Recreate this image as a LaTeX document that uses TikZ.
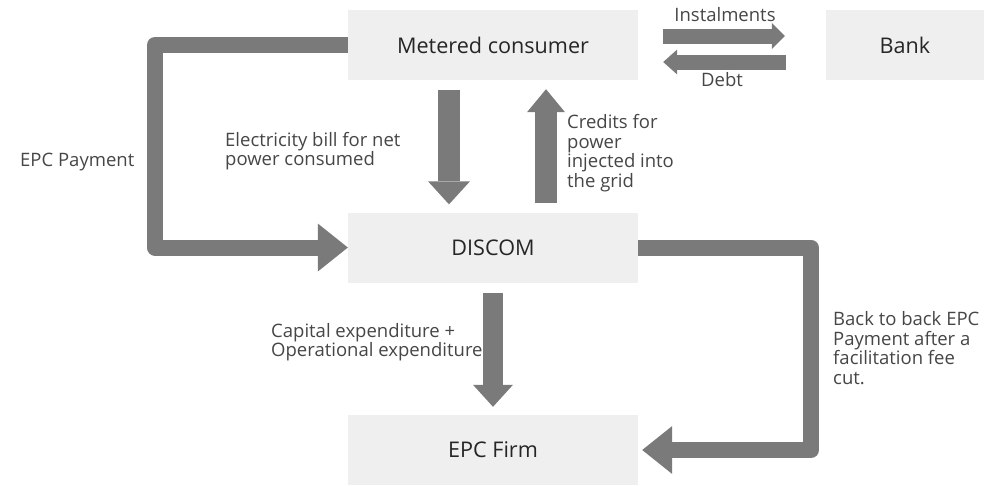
\documentclass[tikz,border=0pt]{standalone}
\usepackage{fontspec}
\setmainfont{Open Sans}
\usetikzlibrary{arrows.meta}
\definecolor{boxgray}{RGB}{239,239,239}
\definecolor{arrgray}{RGB}{122,122,122}
\definecolor{txtgray}{RGB}{70,70,70}
\begin{document}
\begin{tikzpicture}[x=1pt,y=-1pt,
  box/.style={fill=boxgray, minimum width=290pt, minimum height=70pt, inner sep=0pt,
    font=\fontsize{21.6}{24}\selectfont, text=black!85},
  lbl/.style={font=\fontsize{18.5}{19.6}\selectfont, text=txtgray, align=left, inner sep=0pt},
  fat/.style={draw=arrgray, line join=round}]
\useasboundingbox (0,0) rectangle (984,485);
\node[box] (met) at (493,45) {Metered consumer};
\node[box] (disc) at (493,247.5) {DISCOM};
\node[box] (epc) at (493,450) {EPC Firm};
\node[box, minimum width=158pt] (bank) at (905,45) {Bank};
\coordinate (lx) at (155,0);
\coordinate (rx) at (811,0);
% left L arrow
\draw[fat, line width=16pt, -{Triangle[width=48pt,length=30pt,line width=0pt]}]
  (met.west) -- (met.west -| lx) -- (disc.west -| lx) -- (disc.west);
% right L arrow
\draw[fat, line width=16pt, shorten >=4pt, -{Triangle[width=48pt,length=30pt,line width=0pt]}]
  (disc.east) -- (disc.east -| rx) -- (epc.east -| rx) -- (epc.east);
% vertical arrows
\draw[fat, line width=22pt, shorten <=10pt, shorten >=8pt, -{Triangle[width=42pt,length=23pt,line width=0pt]}]
  ([xshift=-44pt]met.south) -- ([xshift=-44pt]disc.north);
\draw[fat, line width=22pt, shorten <=9pt, shorten >=9pt, -{Triangle[width=38pt,length=23pt,line width=0pt]}]
  ([xshift=53pt]disc.north) -- ([xshift=53pt]met.south);
\draw[fat, line width=20pt, shorten <=10pt, shorten >=8pt, -{Triangle[width=40pt,length=22pt,line width=0pt]}]
  (disc.south) -- (epc.north);
% bank arrows
\draw[fat, line width=15pt, shorten <=25pt, shorten >=41pt, -{Triangle[width=26pt,length=13pt,line width=0pt]}]
  ([yshift=9pt]met.east) -- ([yshift=9pt]bank.west);
\draw[fat, line width=15pt, shorten <=40pt, shorten >=25pt, -{Triangle[width=25pt,length=14pt,line width=0pt]}]
  ([yshift=-17pt]bank.west) -- ([yshift=-17pt]met.east);
% labels
\node[lbl] (linst) at (725,15) {Instalments};
\node[lbl] (ldebt) at (722,80) {Debt};
\node[lbl, anchor=west] (lepc) at (20,162) {EPC Payment};
\node[lbl, anchor=west] (lbill) at (225,151) {Electricity bill for net\\power consumed};
\node[lbl, anchor=west] (lcred) at (567,153) {Credits for\\power\\injected into\\the grid};
\node[lbl, anchor=west] (lcap) at (271,342) {Capital expenditure +\\Operational expenditure};
\node[lbl, anchor=west] (lback) at (833,348) {Back to back EPC\\Payment after a\\facilitation fee\\cut.};
\end{tikzpicture}
\end{document}
